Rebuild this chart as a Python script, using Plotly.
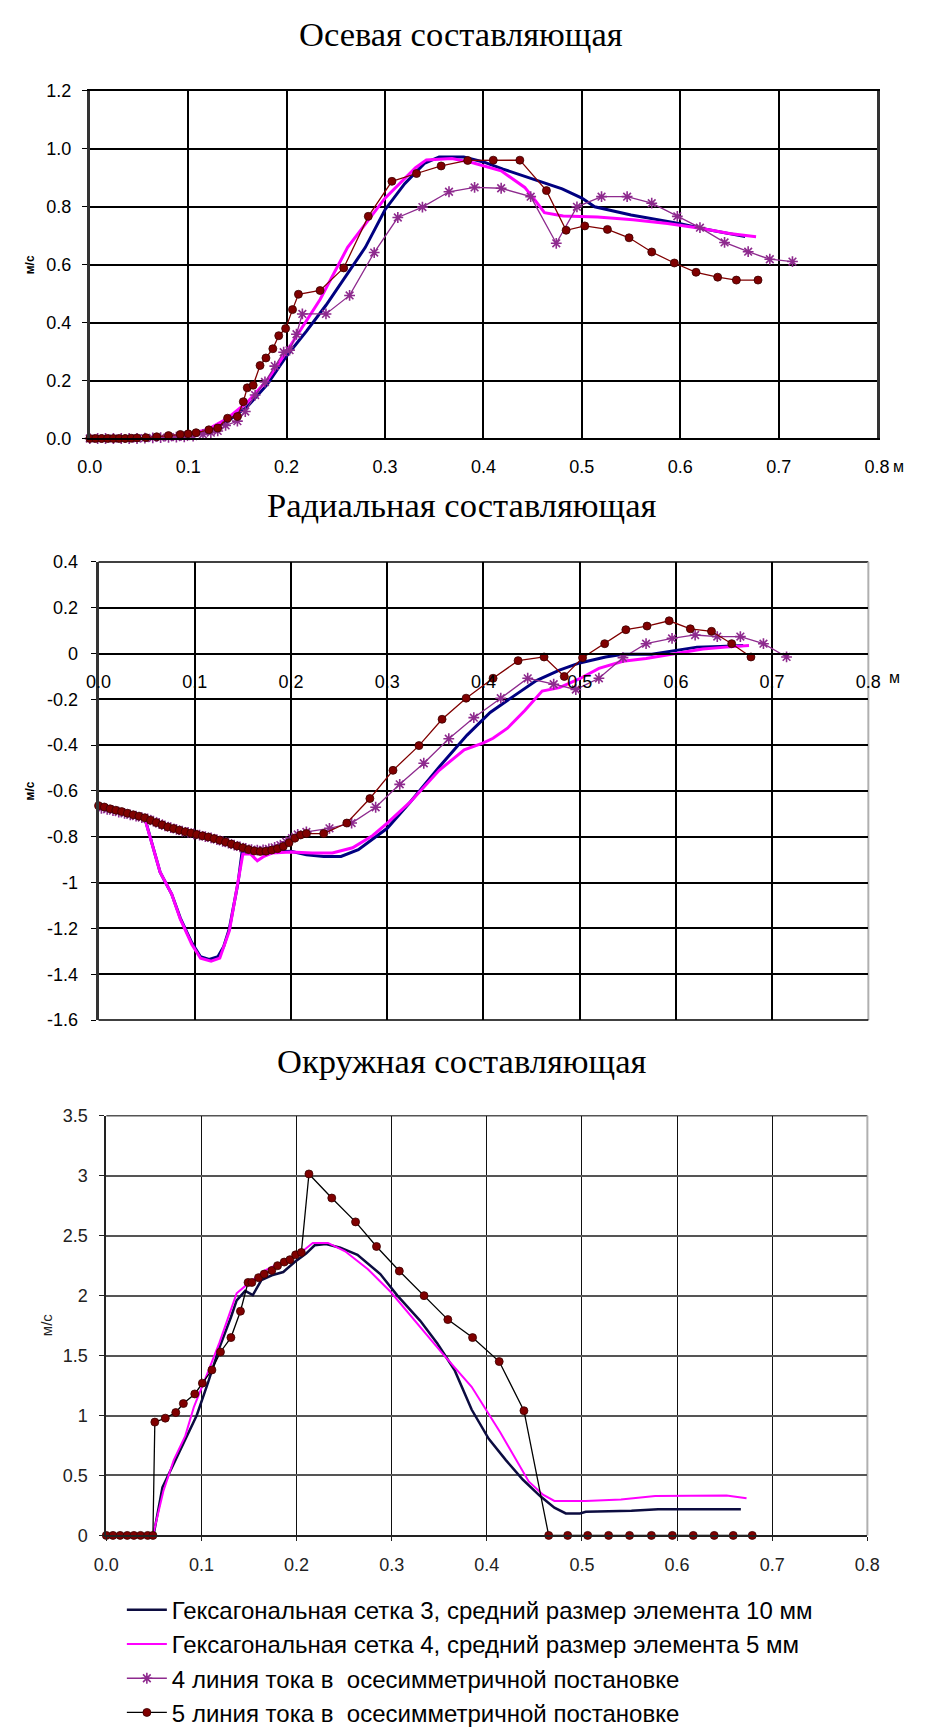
import plotly.graph_objects as go

# ---------------- data: axial component ----------------
ax_blue_x = [0.0, 0.05, 0.08, 0.10, 0.12, 0.14, 0.16, 0.18, 0.20, 0.22, 0.24, 0.26, 0.28, 0.30,
             0.32, 0.34, 0.355, 0.38, 0.40, 0.42, 0.446, 0.48, 0.50, 0.513, 0.55, 0.60, 0.622, 0.666]
ax_blue_y = [0.0, 0.0, 0.003, 0.012, 0.028, 0.06, 0.11, 0.185, 0.285, 0.37, 0.46, 0.56, 0.66, 0.79,
             0.88, 0.95, 0.972, 0.972, 0.955, 0.93, 0.90, 0.862, 0.83, 0.80, 0.772, 0.742, 0.725, 0.697]

ax_mag_x = [0.0, 0.05, 0.08, 0.10, 0.12, 0.14, 0.16, 0.18, 0.20, 0.234, 0.262, 0.30, 0.331, 0.342,
            0.368, 0.389, 0.418, 0.442, 0.453, 0.462, 0.481, 0.516, 0.552, 0.587, 0.622, 0.65, 0.677]
ax_mag_y = [0.0, 0.0, 0.004, 0.013, 0.032, 0.07, 0.125, 0.20, 0.30, 0.48, 0.66, 0.83, 0.935, 0.962,
            0.967, 0.952, 0.924, 0.867, 0.82, 0.78, 0.768, 0.765, 0.755, 0.742, 0.725, 0.708, 0.697]

ax_pur_x = [0.0, 0.008, 0.016, 0.024, 0.032, 0.04, 0.048, 0.056, 0.064, 0.072, 0.08, 0.088, 0.096,
            0.105, 0.115, 0.123, 0.13, 0.138, 0.15, 0.158, 0.168, 0.178, 0.188, 0.197, 0.203, 0.21,
            0.216, 0.24, 0.264, 0.289, 0.313, 0.338, 0.365, 0.391, 0.418, 0.448, 0.474, 0.495, 0.52,
            0.546, 0.571, 0.597, 0.62, 0.645, 0.669, 0.691, 0.714]
ax_pur_y = [0.0, 0.0, 0.0, 0.0, 0.0, 0.0, 0.0, 0.001, 0.002, 0.003, 0.004, 0.005, 0.006,
            0.008, 0.014, 0.02, 0.026, 0.045, 0.06, 0.093, 0.15, 0.195, 0.25, 0.298, 0.305, 0.36,
            0.43, 0.43, 0.494, 0.642, 0.763, 0.799, 0.852, 0.867, 0.864, 0.835, 0.674, 0.80, 0.835,
            0.835, 0.8125, 0.767, 0.728, 0.677, 0.645, 0.619, 0.611]

ax_brn_x = [0.0, 0.006, 0.012, 0.018, 0.024, 0.03, 0.036, 0.042, 0.048, 0.057, 0.068, 0.08, 0.092,
            0.10, 0.108, 0.121, 0.13, 0.14, 0.15, 0.156, 0.16, 0.166, 0.173, 0.179, 0.186, 0.192,
            0.199, 0.206, 0.212, 0.234, 0.258, 0.283, 0.307, 0.332, 0.357, 0.384, 0.41, 0.437,
            0.464, 0.484, 0.503, 0.526, 0.548, 0.571, 0.594, 0.616, 0.638, 0.657, 0.679]
ax_brn_y = [0.0, 0.0, 0.0, 0.0, 0.0, 0.0, 0.0, 0.001, 0.002, 0.003, 0.006, 0.01, 0.014,
            0.016, 0.02, 0.03, 0.036, 0.07, 0.076, 0.127, 0.175, 0.184, 0.252, 0.278, 0.31, 0.355,
            0.38, 0.445, 0.498, 0.511, 0.589, 0.767, 0.888, 0.915, 0.941, 0.96, 0.961, 0.961,
            0.856, 0.719, 0.734, 0.722, 0.693, 0.644, 0.606, 0.574, 0.557, 0.547, 0.547]

# ---------------- data: radial component ----------------
rad_blue_x = [0.0, 0.02, 0.048, 0.064, 0.076, 0.085, 0.097, 0.106, 0.115, 0.124, 0.13, 0.136,
              0.145, 0.149, 0.162, 0.18, 0.20, 0.216, 0.234, 0.252, 0.27, 0.285, 0.30, 0.324,
              0.354, 0.383, 0.407, 0.431, 0.455, 0.479, 0.50, 0.527, 0.545, 0.575, 0.60, 0.622,
              0.646, 0.67]
rad_blue_y = [-0.664, -0.685, -0.717, -0.955, -1.05, -1.155, -1.263, -1.324, -1.335, -1.324, -1.28,
              -1.20, -1.0, -0.871, -0.868, -0.866, -0.863, -0.879, -0.886, -0.886, -0.856, -0.81,
              -0.763, -0.648, -0.495, -0.356, -0.257, -0.187, -0.118, -0.072, -0.041, -0.015,
              -0.003, -0.003, 0.012, 0.028, 0.031, 0.035]

rad_mag_x = [0.0, 0.02, 0.048, 0.064, 0.076, 0.085, 0.097, 0.106, 0.117, 0.126, 0.136, 0.145,
             0.15, 0.158, 0.165, 0.172, 0.18, 0.20, 0.222, 0.243, 0.264, 0.285, 0.30, 0.324, 0.354,
             0.38, 0.40, 0.41, 0.425, 0.443, 0.461, 0.479, 0.50, 0.52, 0.545, 0.569, 0.60, 0.628,
             0.652, 0.676]
rad_mag_y = [-0.668, -0.688, -0.72, -0.955, -1.05, -1.16, -1.27, -1.33, -1.343, -1.33, -1.21, -1.0,
             -0.875, -0.875, -0.905, -0.885, -0.871, -0.866, -0.871, -0.871, -0.848, -0.794, -0.74,
             -0.648, -0.51, -0.42, -0.39, -0.37, -0.326, -0.249, -0.164, -0.149, -0.11, -0.065,
             -0.034, -0.022, 0.0, 0.02, 0.028, 0.035]

rad_pur_x = [0.003, 0.009, 0.015, 0.021, 0.027, 0.033, 0.039, 0.045, 0.051, 0.057, 0.063, 0.069,
             0.075, 0.081, 0.087, 0.093, 0.099, 0.105, 0.111, 0.117, 0.123, 0.129, 0.135, 0.141,
             0.147, 0.153, 0.159, 0.165, 0.171, 0.177, 0.183, 0.189, 0.195, 0.201, 0.207, 0.216,
             0.24, 0.263, 0.288, 0.313, 0.338, 0.364, 0.39, 0.418, 0.446, 0.473, 0.496, 0.52,
             0.545, 0.569, 0.596, 0.62, 0.643, 0.667, 0.691, 0.715]
rad_pur_y = [-0.676, -0.680, -0.686, -0.692, -0.698, -0.704, -0.710, -0.716, -0.722, -0.732,
             -0.742, -0.752, -0.760, -0.768, -0.775, -0.781, -0.787, -0.793, -0.799, -0.805,
             -0.812, -0.820, -0.828, -0.836, -0.844, -0.851, -0.856, -0.858, -0.857, -0.853,
             -0.846, -0.836, -0.822, -0.806, -0.790, -0.779, -0.763, -0.74, -0.671, -0.571,
             -0.479, -0.372, -0.28, -0.195, -0.108, -0.134, -0.157, -0.108, -0.018, 0.043,
             0.066, 0.081, 0.074, 0.074, 0.043, -0.015]

rad_brn_x = [0.0, 0.006, 0.012, 0.018, 0.024, 0.03, 0.036, 0.042, 0.048, 0.054, 0.06, 0.066,
             0.072, 0.078, 0.084, 0.09, 0.096, 0.102, 0.108, 0.114, 0.12, 0.126, 0.132, 0.138,
             0.144, 0.15, 0.156, 0.162, 0.168, 0.174, 0.18, 0.186, 0.192, 0.198, 0.204, 0.21,
             0.216, 0.234, 0.258, 0.282, 0.306, 0.333, 0.357, 0.382, 0.41, 0.436, 0.463, 0.484,
             0.503, 0.526, 0.548, 0.57, 0.593, 0.615, 0.637, 0.658, 0.678]
rad_brn_y = [-0.664, -0.670, -0.678, -0.684, -0.690, -0.697, -0.704, -0.710, -0.717, -0.728,
             -0.738, -0.748, -0.757, -0.764, -0.771, -0.778, -0.784, -0.790, -0.796, -0.801,
             -0.808, -0.815, -0.823, -0.832, -0.840, -0.848, -0.856, -0.862, -0.864, -0.863,
             -0.858, -0.852, -0.842, -0.826, -0.806, -0.792, -0.786, -0.786, -0.74, -0.633,
             -0.51, -0.402, -0.287, -0.195, -0.108, -0.031, -0.015, -0.10, -0.018, 0.043, 0.104,
             0.12, 0.143, 0.108, 0.097, 0.043, -0.015]

# ---------------- data: circumferential component ----------------
tan_blue_x = [0.0, 0.0496, 0.059, 0.071, 0.083, 0.095, 0.107, 0.119, 0.131, 0.137, 0.146, 0.154,
              0.163, 0.174, 0.186, 0.198, 0.21, 0.219, 0.231, 0.246, 0.264, 0.288, 0.306, 0.33,
              0.348, 0.366, 0.384, 0.402, 0.42, 0.438, 0.456, 0.471, 0.483, 0.498, 0.504, 0.552,
              0.58, 0.667]
tan_blue_y = [0.0, 0.0, 0.40, 0.60, 0.80, 1.0, 1.276, 1.57, 1.82, 1.96, 2.04, 2.005,
              2.13, 2.17, 2.197, 2.28, 2.35, 2.42, 2.43, 2.40, 2.34, 2.18, 2.0, 1.79,
              1.6, 1.38, 1.05, 0.806, 0.628, 0.464, 0.328, 0.232, 0.183, 0.183, 0.197, 0.205,
              0.219, 0.219]

tan_mag_x = [0.0, 0.049, 0.06, 0.071, 0.083, 0.092, 0.107, 0.119, 0.137, 0.149, 0.167, 0.185,
             0.203, 0.217, 0.233, 0.251, 0.275, 0.299, 0.323, 0.353, 0.384, 0.414, 0.432, 0.444,
             0.459, 0.471, 0.504, 0.541, 0.577, 0.652, 0.673]
tan_mag_y = [0.0, 0.0, 0.37, 0.63, 0.83, 1.07, 1.366, 1.61, 2.02, 2.10, 2.21, 2.28,
             2.35, 2.44, 2.44, 2.37, 2.22, 2.03, 1.80, 1.52, 1.24, 0.86, 0.615, 0.45,
             0.34, 0.287, 0.287, 0.30, 0.328, 0.333, 0.31]

tan_brn_x = [0.0, 0.007, 0.0145, 0.022, 0.029, 0.036, 0.0435, 0.049, 0.051, 0.062, 0.073, 0.081,
             0.093, 0.101, 0.111, 0.12, 0.131, 0.141, 0.149, 0.153, 0.16, 0.166, 0.174, 0.18,
             0.187, 0.193, 0.199, 0.205, 0.213, 0.237, 0.262, 0.284, 0.308, 0.334, 0.359, 0.385,
             0.413, 0.439, 0.465, 0.485, 0.506, 0.528, 0.55, 0.573, 0.595, 0.617, 0.639, 0.659,
             0.679]
tan_brn_y = [0.0, 0.0, 0.0, 0.0, 0.0, 0.0, 0.0, 0.0, 0.945, 0.978, 1.025, 1.10,
             1.18, 1.27, 1.38, 1.53, 1.65, 1.87, 2.11, 2.11, 2.15, 2.18, 2.21, 2.25,
             2.28, 2.30, 2.34, 2.36, 3.015, 2.814, 2.615, 2.41, 2.205, 2.0, 1.80, 1.65,
             1.45, 1.04, 0.0, 0.0, 0.0, 0.0, 0.0, 0.0, 0.0, 0.0, 0.0, 0.0,
             0.0]

# ---------------- axis labels ----------------
x_ticks = [0.0, 0.1, 0.2, 0.3, 0.4, 0.5, 0.6, 0.7, 0.8]
x_ticktext = ["0.0", "0.1", "0.2", "0.3", "0.4", "0.5", "0.6", "0.7", "0.8"]
ax_yticks = [0.0, 0.2, 0.4, 0.6, 0.8, 1.0, 1.2]
ax_yticktext = ["0.0", "0.2", "0.4", "0.6", "0.8", "1.0", "1.2"]
rad_yticks = [0.4, 0.2, 0.0, -0.2, -0.4, -0.6, -0.8, -1.0, -1.2, -1.4, -1.6]
rad_yticktext = ["0.4", "0.2", "0", "-0.2", "-0.4", "-0.6", "-0.8", "-1", "-1.2", "-1.4", "-1.6"]
tan_yticks = [0.0, 0.5, 1.0, 1.5, 2.0, 2.5, 3.0, 3.5]
tan_yticktext = ["0", "0.5", "1", "1.5", "2", "2.5", "3", "3.5"]

titles = ["Осевая составляющая", "Радиальная составляющая", "Окружная составляющая"]
names = ["Гексагональная сетка 3, средний размер элемента 10 мм",
         "Гексагональная сетка 4, средний размер элемента 5 мм",
         "4 линия тока в  осесимметричной постановке",
         "5 линия тока в  осесимметричной постановке"]

# ---------------- page geometry (pixels) ----------------
W, H = 928, 1735
PLOTS = {  # x-left, x-right, y-top, y-bottom
    1: (79, 889, 82, 434),
    2: (88, 880, 559, 1023),
    3: (96, 879, 1120, 1545),
}
TITLE_Y = {1: 24, 2: 501, 3: 1065}


def px(x):
    return x / W


def py(y):
    return 1 - y / H


BLUE, MAG, PUR, BRN = "#000080", "#FF00FF", "#8E2A8E", "#800000"
SANS = "Liberation Sans, Arial, sans-serif"
SERIF = "Liberation Serif, Times New Roman, serif"

fig = go.Figure()


def add_line(x, y, color, width, k, name, legend=False):
    fig.add_trace(go.Scatter(x=x, y=y, mode="lines", name=name, showlegend=legend,
                             line=dict(color=color, width=width),
                             xaxis=f"x{k}", yaxis=f"y{k}", legendgroup=name, hoverinfo="skip"))


def add_pur(x, y, k, legend=False):
    fig.add_trace(go.Scatter(x=x, y=y, mode="lines+markers", name=names[2], showlegend=legend,
                             line=dict(color=PUR, width=1.3),
                             marker=dict(symbol="asterisk-open", size=9,
                                         line=dict(color=PUR, width=1.6)),
                             cliponaxis=False, xaxis=f"x{k}", yaxis=f"y{k}",
                             legendgroup=names[2], hoverinfo="skip"))


def add_brn(x, y, k, line_color, legend=False):
    fig.add_trace(go.Scatter(x=x, y=y, mode="lines+markers", name=names[3], showlegend=legend,
                             line=dict(color=line_color, width=1.3),
                             marker=dict(symbol="circle", size=8, color=BRN,
                                         line=dict(color="#3a0000", width=0.8)),
                             cliponaxis=False, xaxis=f"x{k}", yaxis=f"y{k}",
                             legendgroup=names[3], hoverinfo="skip"))


# axial
add_line(ax_blue_x, ax_blue_y, BLUE, 3, 1, names[0])
add_line(ax_mag_x, ax_mag_y, MAG, 3, 1, names[1])
add_pur(ax_pur_x, ax_pur_y, 1)
add_brn(ax_brn_x, ax_brn_y, 1, BRN)
# radial
add_line(rad_blue_x, rad_blue_y, BLUE, 3, 2, names[0])
add_line(rad_mag_x, rad_mag_y, MAG, 3, 2, names[1])
add_pur(rad_pur_x, rad_pur_y, 2)
add_brn(rad_brn_x, rad_brn_y, 2, BRN)
# circumferential (carries the legend)
add_line(tan_blue_x, tan_blue_y, "#0c0c40", 2.5, 3, names[0], legend=True)
add_line(tan_mag_x, tan_mag_y, MAG, 2, 3, names[1], legend=True)
add_pur([None], [None], 3, legend=True)
add_brn(tan_brn_x, tan_brn_y, 3, "#000000", legend=True)

TICK = 18
tickfont = dict(family=SANS, size=TICK, color="#000000")
layout = dict(
    width=W, height=H, margin=dict(l=0, r=0, t=0, b=0),
    paper_bgcolor="white", plot_bgcolor="white",
    showlegend=True,
    legend=dict(x=px(112), y=py(1598), xanchor="left", yanchor="top",
                font=dict(family=SANS, size=24, color="#000000"),
                tracegroupgap=0, itemwidth=40, bgcolor="rgba(0,0,0,0)"),
)

# axial axes
x0, x1, yt, yb = PLOTS[1]
layout["xaxis"] = dict(domain=[px(x0), px(x1)], range=[0, 0.8], anchor="y",
                       tickmode="array", tickvals=x_ticks, ticktext=x_ticktext,
                       showgrid=True, gridcolor="#000000", gridwidth=1.5,
                       showline=True, linecolor="#000000", linewidth=2, mirror=True,
                       zeroline=False, ticks="", ticklabelstandoff=11, tickfont=tickfont)
layout["yaxis"] = dict(domain=[py(yb), py(yt)], range=[0, 1.2], anchor="x",
                       tickmode="array", tickvals=ax_yticks, ticktext=ax_yticktext,
                       showgrid=True, gridcolor="#000000", gridwidth=1.5,
                       showline=True, linecolor="#333333", linewidth=3, mirror=True,
                       zeroline=False, ticks="outside", ticklen=5, tickcolor="#000000",
                       ticklabelstandoff=7, tickfont=tickfont)

# radial axes: x axis crosses at zero
x0, x1, yt, yb = PLOTS[2]
zero_frac = (0 - (-1.6)) / 2.0
zero_pos = py(yb) + zero_frac * (py(yt) - py(yb))
layout["xaxis2"] = dict(domain=[px(x0), px(x1)], range=[0, 0.8], anchor="free", position=zero_pos,
                        tickmode="array", tickvals=x_ticks, ticktext=x_ticktext,
                        showgrid=True, gridcolor="#000000", gridwidth=1.5,
                        showline=True, linecolor="#000000", linewidth=2,
                        zeroline=False, ticks="", ticklabelstandoff=12,
                        tickfont=dict(family=SANS, size=TICK, color="#000000"))
layout["yaxis2"] = dict(domain=[py(yb), py(yt)], range=[-1.6, 0.4], anchor="x2",
                        tickmode="array", tickvals=rad_yticks, ticktext=rad_yticktext,
                        showgrid=True, gridcolor="#000000", gridwidth=1.5,
                        showline=True, linecolor="#333333", linewidth=3,
                        zeroline=False, ticks="outside", ticklen=5, tickcolor="#000000",
                        ticklabelstandoff=9, tickfont=dict(family=SANS, size=TICK, color="#000000"))

# circumferential axes
x0, x1, yt, yb = PLOTS[3]
layout["xaxis3"] = dict(domain=[px(x0), px(x1)], range=[0, 0.8], anchor="y3",
                        tickmode="array", tickvals=x_ticks, ticktext=x_ticktext,
                        showgrid=True, gridcolor="#111111", gridwidth=1,
                        showline=True, linecolor="#222222", linewidth=2,
                        zeroline=False, ticks="outside", ticklen=4, tickcolor="#222222",
                        ticklabelstandoff=8, tickfont=dict(family=SANS, size=TICK, color="#222222"))
layout["yaxis3"] = dict(domain=[py(yb), py(yt)], range=[0, 3.5], anchor="x3",
                        tickmode="array", tickvals=tan_yticks, ticktext=tan_yticktext,
                        showgrid=True, gridcolor="#555555", gridwidth=1.5,
                        showline=True, linecolor="#222222", linewidth=2,
                        zeroline=False, ticks="outside", ticklen=5, tickcolor="#222222",
                        ticklabelstandoff=8, tickfont=dict(family=SANS, size=TICK, color="#222222"))
fig.update_layout(**layout)

# frame edges of the radial and circumferential panels
for k, col in ((2, "#000000"), (3, "#555555")):
    fig.add_shape(type="line", xref=f"x{k} domain", yref=f"y{k} domain",
                  x0=0, x1=1, y0=1, y1=1, line=dict(color=col, width=1.5), layer="below")
for k in (2, 3):
    fig.add_shape(type="line", xref=f"x{k} domain", yref=f"y{k} domain",
                  x0=1, x1=1, y0=0, y1=1, line=dict(color="#b0b0b0", width=2), layer="below")
fig.add_shape(type="line", xref="x2 domain", yref="y2 domain",
              x0=0, x1=1, y0=0, y1=0, line=dict(color="#000000", width=1.5), layer="below")

# panel titles
for k in (1, 2, 3):
    fig.add_annotation(text=titles[k - 1], xref="paper", yref="paper", x=px(461), y=py(TITLE_Y[k]),
                       xanchor="center", yanchor="middle", showarrow=False,
                       font=dict(family=SERIF, size=34.5, color="#000000"))

# axis titles
fig.add_annotation(text="<b>м/с</b>", xref="paper", yref="paper", x=px(17), y=py(258),
                   textangle=-90, showarrow=False, xanchor="center", yanchor="middle",
                   font=dict(family=SANS, size=12, color="#000000"))
fig.add_annotation(text="<b>м/с</b>", xref="paper", yref="paper", x=px(17), y=py(791),
                   textangle=-90, showarrow=False, xanchor="center", yanchor="middle",
                   font=dict(family=SANS, size=12, color="#000000"))
fig.add_annotation(text="м/с", xref="paper", yref="paper", x=px(34), y=py(1332),
                   textangle=-90, showarrow=False, xanchor="center", yanchor="middle",
                   font=dict(family=SANS, size=15, color="#222222"))
fig.add_annotation(text="м", xref="paper", yref="paper", x=px(911), y=py(462),
                   showarrow=False, xanchor="center", yanchor="middle",
                   font=dict(family=SANS, size=16, color="#000000"))
fig.add_annotation(text="м", xref="paper", yref="paper", x=px(907), y=py(676),
                   showarrow=False, xanchor="center", yanchor="middle",
                   font=dict(family=SANS, size=16, color="#000000"))

fig.write_html("out.html")
